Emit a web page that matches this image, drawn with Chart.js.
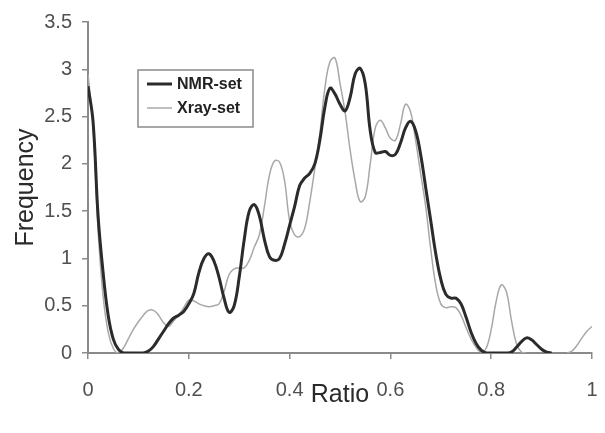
<!DOCTYPE html>
<html>
<head>
<meta charset="utf-8">
<script src="https://cdn.jsdelivr.net/npm/chart.js@4/dist/chart.umd.min.js"></script>
<style>
  html, body { margin: 0; padding: 0; background: #fff; }
  #wrap { width: 605px; height: 433px; }
</style>
</head>
<body>
<div id="wrap"><canvas id="chart01" width="605" height="433"></canvas></div>
<script>
// sampling grid along the ratio axis (0 .. 1)
const ratio = [
  0.00, 0.01, 0.02, 0.03, 0.04, 0.05, 0.06, 0.07, 0.08, 0.09,
  0.10, 0.11, 0.12, 0.13, 0.14, 0.15, 0.16, 0.17, 0.18, 0.19,
  0.20, 0.21, 0.22, 0.23, 0.24, 0.25, 0.26, 0.27, 0.28, 0.29,
  0.30, 0.31, 0.32, 0.33, 0.34, 0.35, 0.36, 0.37, 0.38, 0.39,
  0.40, 0.41, 0.42, 0.43, 0.44, 0.45, 0.46, 0.47, 0.48, 0.49,
  0.50, 0.51, 0.52, 0.53, 0.54, 0.55, 0.56, 0.57, 0.58, 0.59,
  0.60, 0.61, 0.62, 0.63, 0.64, 0.65, 0.66, 0.67, 0.68, 0.69,
  0.70, 0.71, 0.72, 0.73, 0.74, 0.75, 0.76, 0.77, 0.78, 0.79,
  0.80, 0.81, 0.82, 0.83, 0.84, 0.85, 0.86, 0.87, 0.88, 0.89,
  0.90, 0.91, 0.92, 0.93, 0.94, 0.95, 0.96, 0.97, 0.98, 0.99,
  1.00
];

const nmrSet = [
  2.82, 2.45, 1.45, 0.85, 0.40, 0.15, 0.04, 0.00, 0.00, 0.00,
  0.00, 0.00, 0.02, 0.07, 0.15, 0.23, 0.31, 0.37, 0.40, 0.44,
  0.52, 0.63, 0.85, 1.00, 1.05, 0.97, 0.80, 0.58, 0.43, 0.50,
  0.80, 1.20, 1.50, 1.57, 1.45, 1.20, 1.02, 0.98, 1.00, 1.15,
  1.35, 1.55, 1.77, 1.85, 1.90, 2.00, 2.25, 2.60, 2.80, 2.74,
  2.63, 2.56, 2.70, 2.95, 3.01, 2.85, 2.35, 2.12, 2.12, 2.13,
  2.09, 2.10, 2.22, 2.38, 2.45, 2.35, 2.10, 1.75, 1.40, 1.05,
  0.78, 0.62, 0.58, 0.58, 0.52, 0.38, 0.22, 0.10, 0.03, 0.00,
  0.00, 0.00, 0.00, 0.00, 0.01, 0.06, 0.12, 0.16, 0.14, 0.09,
  0.04, 0.01, 0.00, null, null, null, null, null, null, null,
  null
];

const xraySet = [
  2.95, 2.40, 1.30, 0.60, 0.22, 0.05, 0.00, 0.05, 0.15, 0.25,
  0.33, 0.40, 0.45, 0.45, 0.40, 0.32, 0.28, 0.34, 0.40, 0.48,
  0.56, 0.55, 0.52, 0.50, 0.49, 0.50, 0.52, 0.65, 0.83, 0.89,
  0.90, 0.90, 0.98, 1.12, 1.25, 1.55, 1.88, 2.03, 2.02, 1.82,
  1.40, 1.25, 1.23, 1.32, 1.60, 1.95, 2.32, 2.80, 3.08, 3.12,
  2.85, 2.55, 2.15, 1.82, 1.60, 1.65, 2.00, 2.38, 2.46, 2.38,
  2.27, 2.25, 2.42, 2.63, 2.55, 2.25, 1.90, 1.55, 1.10, 0.72,
  0.52, 0.48, 0.49, 0.48, 0.40, 0.27, 0.15, 0.06, 0.01, 0.05,
  0.25, 0.55, 0.72, 0.65, 0.35, 0.10, 0.01, 0.00, null, null,
  null, null, null, null, null, 0.00, 0.02, 0.08, 0.16, 0.23,
  0.28
];

const xTicks = [0, 0.2, 0.4, 0.6, 0.8, 1];

function toPoints(ys) {
  return ratio.map((r, i) => ({ x: r, y: ys[i] }));
}

// boxed legend in the upper left of the plot
const boxLegend = {
  id: "boxLegend",
  afterDraw(chart) {
    const ctx = chart.ctx;
    ctx.save();
    ctx.fillStyle = "#fff";
    ctx.fillRect(138, 70, 115, 57);
    ctx.strokeStyle = "#8a8a8a";
    ctx.lineWidth = 1.5;
    ctx.strokeRect(138, 70, 115, 57);

    const rows = [84, 108];
    chart.data.datasets.forEach((ds, i) => {
      ctx.strokeStyle = ds.borderColor;
      ctx.lineWidth = ds.borderWidth;
      ctx.beginPath();
      ctx.moveTo(147, rows[i]);
      ctx.lineTo(172, rows[i]);
      ctx.stroke();
      ctx.fillStyle = "#222";
      ctx.font = "bold 16px 'Liberation Sans', Arial, sans-serif";
      ctx.textBaseline = "middle";
      ctx.fillText(ds.label, 177, rows[i] + 1);
    });
    ctx.restore();
  },
};

const tickFont = { family: "'Liberation Sans', Arial, sans-serif", size: 20 };
const titleFont = { family: "'Liberation Sans', Arial, sans-serif", size: 25 };

const ctx01 = document.getElementById("chart01").getContext("2d");
const chart01 = new Chart(ctx01, {
  type: "line",
  data: {
    datasets: [
      {
        label: "NMR-set",
        data: toPoints(nmrSet),
        borderColor: "#2b2b2b",
        borderWidth: 3,
        pointRadius: 0,
        tension: 0.4,
        spanGaps: false,
      },
      {
        label: "Xray-set",
        data: toPoints(xraySet),
        borderColor: "#a8a8a8",
        borderWidth: 1.5,
        pointRadius: 0,
        tension: 0.4,
        spanGaps: false,
      },
    ],
  },
  options: {
    responsive: false,
    animation: false,
    events: [],
    layout: { padding: { top: 17, right: 13, bottom: 0, left: 0 } },
    plugins: {
      legend: { display: false },
      tooltip: { enabled: false },
    },
    scales: {
      x: {
        type: "linear",
        min: 0,
        max: 1,
        afterBuildTicks(scale) {
          scale.ticks = xTicks.map((v) => ({ value: v }));
        },
        afterFit(scale) {
          // fixed band under the plot; let the layout padding decide the right edge
          scale.height = 80;
          scale.paddingLeft = 0;
          scale.paddingRight = 0;
        },
        grid: { drawOnChartArea: false, drawTicks: true, tickLength: 6, color: "#8a8a8a", lineWidth: 1.5 },
        border: { color: "#8a8a8a", width: 2 },
        ticks: {
          font: tickFont,
          color: "#505050",
          padding: 19,
          maxRotation: 0,
          callback: (v) => String(v),
        },
        title: {
          display: true,
          text: "Ratio",
          font: titleFont,
          color: "#2a2a2a",
          padding: { top: 0, bottom: 23 },
        },
      },
      y: {
        min: 0,
        max: 3.5,
        afterFit(scale) {
          scale.width = 88;
        },
        grid: { drawOnChartArea: false, drawTicks: true, tickLength: 6, color: "#8a8a8a", lineWidth: 1.5 },
        border: { color: "#8a8a8a", width: 2 },
        ticks: {
          stepSize: 0.5,
          font: tickFont,
          color: "#505050",
          padding: 10,
          callback: (v) => String(v),
        },
        title: {
          display: true,
          text: "Frequency",
          font: titleFont,
          color: "#2a2a2a",
          padding: { top: 11, bottom: 0 },
        },
      },
    },
  },
  plugins: [boxLegend],
});
</script>
</body>
</html>
